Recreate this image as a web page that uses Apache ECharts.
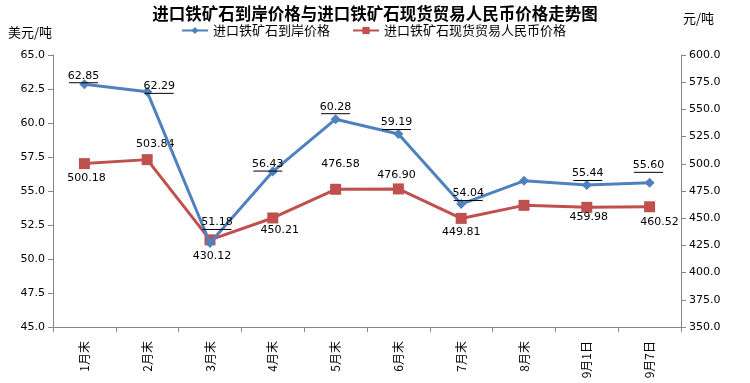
<!DOCTYPE html>
<html><head><meta charset="utf-8">
<script src="https://cdn.jsdelivr.net/npm/echarts@6/dist/echarts.min.js"></script>
<style>html,body{margin:0;padding:0;background:#fff}#c{width:750px;height:383px}</style>
</head><body><div id="c"></div>
<script>
const categories = ['1月末','2月末','3月末','4月末','5月末','6月末','7月末','8月末','9月1日','9月7日'];
const usdPrice = [62.85, 62.29, 51.18, 56.43, 60.28, 59.19, 54.04, 55.75, 55.44, 55.60];
const rmbPrice = [500.18, 503.84, 430.12, 450.21, 476.58, 476.90, 449.81, 461.8, 459.98, 460.52];
const usdShow = [true,true,true,true,true,true,true,false,true,true];
const rmbShow = [true,true,true,true,true,true,true,false,true,true];
const usdOffsets = [[-1,-8],[12,-5],[7,-20],[-5,-7],[0,-12],[-2,-11],[7,-10],[0,0],[1,-11],[-1,-17]];
const rmbOffsets = [[2,15],[8,-15],[2,16],[7,12],[5,-25],[-2,-14],[0,14],[0,0],[2,10],[10,15]];
const leftTicks = {min:45, max:65, interval:2.5};
const rightTicks = {min:350, max:600, interval:25};

const FONT = 'DejaVu Sans';
const CJK = 'Noto Sans CJK SC';
const chart = echarts.init(document.getElementById('c'));
const axisCol = '#868686';

const usdData = usdPrice.map((v,i)=>({
  value:v,
  label:{show:usdShow[i], position:'inside', offset:usdOffsets[i],
    formatter: p => '{v|'+p.value.toFixed(2)+'}\n{u|}',
    rich:{v:{fontFamily:FONT,fontSize:11,color:'#000',lineHeight:13,align:'center'},
          u:{width:29,height:1,lineHeight:1,backgroundColor:'#000',align:'center'}}}
}));
const rmbData = rmbPrice.map((v,i)=>({
  value:v,
  label:{show:rmbShow[i], position:'inside', offset:rmbOffsets[i],
    formatter: p => p.value.toFixed(2),
    fontFamily:FONT,fontSize:11,color:'#000'}
}));

chart.setOption({
  animation:false,
  backgroundColor:'#fff',
  title:{text:'进口铁矿石到岸价格与进口铁矿石现货贸易人民币价格走势图', left:'center', top:0,
    textStyle:{fontFamily:CJK,fontSize:16.5,fontWeight:'bold',color:'#000'}},
  legend:{left:176, top:19, itemWidth:26, itemHeight:9, itemGap:22,
    textStyle:{fontFamily:CJK,fontSize:13,color:'#000'},
    data:['进口铁矿石到岸价格','进口铁矿石现货贸易人民币价格']},
  graphic:[
    {type:'text', left:8, top:26, style:{text:'美元/吨', fontFamily:CJK, fontSize:13, fill:'#000'}},
    {type:'text', left:683, top:12, style:{text:'元/吨', fontFamily:CJK, fontSize:13, fill:'#000'}}
  ],
  grid:{left:53, right:69, top:55, bottom:56},
  xAxis:{type:'category', data:categories, boundaryGap:true,
    axisLine:{lineStyle:{color:axisCol}},
    axisTick:{show:true, alignWithLabel:false, length:5, lineStyle:{color:axisCol}},
    axisLabel:{rotate:90, margin:14, fontFamily:CJK, fontSize:12, color:'#000', interval:0}},
  yAxis:[
    {type:'value', min:leftTicks.min, max:leftTicks.max, interval:leftTicks.interval,
     splitLine:{show:false},
     axisLine:{show:true, lineStyle:{color:axisCol}},
     axisTick:{show:true, length:5, lineStyle:{color:axisCol}},
     axisLabel:{formatter:v=>v.toFixed(1), fontFamily:FONT, fontSize:11, color:'#000', margin:8}},
    {type:'value', min:rightTicks.min, max:rightTicks.max, interval:rightTicks.interval,
     position:'right', splitLine:{show:false},
     axisLine:{show:true, lineStyle:{color:axisCol}},
     axisTick:{show:true, length:5, lineStyle:{color:axisCol}},
     axisLabel:{formatter:v=>v.toFixed(1), fontFamily:FONT, fontSize:11, color:'#000', margin:8}}
  ],
  series:[
    {name:'进口铁矿石到岸价格', type:'line', yAxisIndex:0, data:usdData,
     symbol:'diamond', symbolSize:10, lineStyle:{color:'#4F81BD', width:3},
     itemStyle:{color:'#4F81BD'}, z:3},
    {name:'进口铁矿石现货贸易人民币价格', type:'line', yAxisIndex:1, data:rmbData,
     symbol:'rect', symbolSize:11, lineStyle:{color:'#C0504D', width:3},
     itemStyle:{color:'#C0504D'}, z:2}
  ]
});
</script></body></html>
